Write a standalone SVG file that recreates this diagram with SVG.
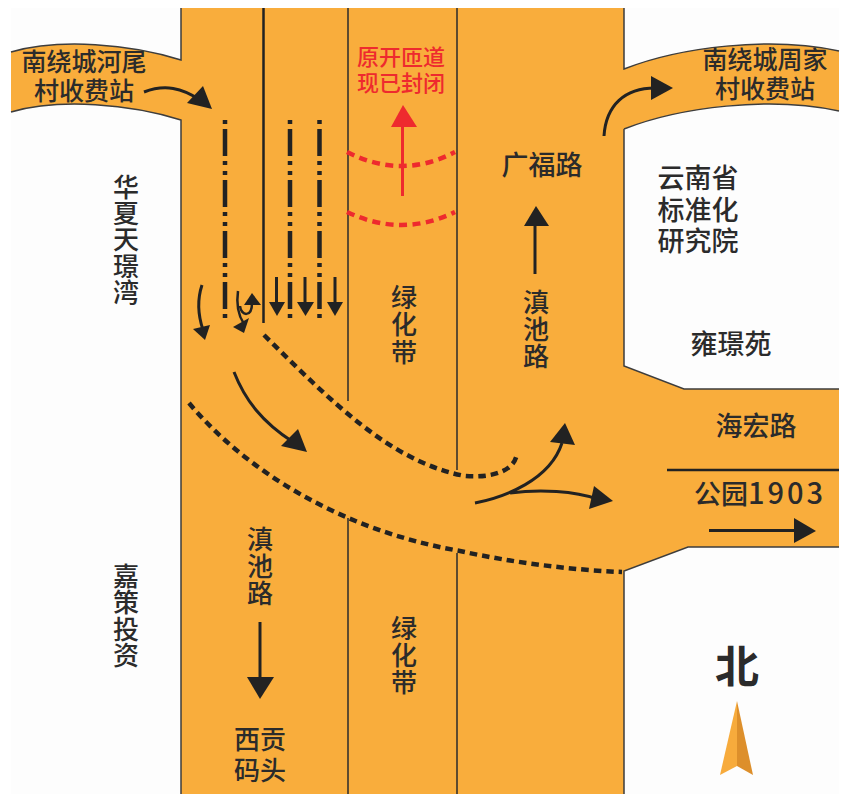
<svg xmlns="http://www.w3.org/2000/svg" width="846" height="794" viewBox="0 0 846 794">
<style>
text{font-family:"Noto Sans CJK SC","Noto Sans",sans-serif;font-size:26px;fill:#2b2b2b;text-anchor:middle;font-weight:500}
text.v{writing-mode:vertical-rl;text-anchor:start}
.ramp{font-size:25px}
.rt{font-size:22px;fill:#ee2a2e}
.edge{fill:none;stroke:#3d3d3d;stroke-width:1.5}
.lane{fill:none;stroke:#2b2b2b;stroke-width:1.5}
.cur{fill:none;stroke:#222;stroke-width:3}
.head{fill:#222}
.dd{fill:none;stroke:#222;stroke-width:4.500;stroke-dasharray:27 5 4 6 4 5;stroke-dashoffset:42}
.dash{fill:none;stroke:#222;stroke-width:4.500;stroke-dasharray:7.500 5}
.rdash{fill:none;stroke:#ee2a2e;stroke-width:4.500;stroke-dasharray:8 5.500}
.red{fill:#ee2a2e}
</style>
<rect width="846" height="794" fill="#fff"/>
<rect x="11" y="8" width="828" height="786" fill="#fdfdfd"/>
<g id="roads">
<path id="road" fill="#f9ad3c" d="M181,8H624V69C680,47 770,36 839,51V111C770,96 680,107 624,129V366L684,389H839V547H688L624,571V794H181V120C130,104 60,98 11,112V52C60,38 130,44 181,60Z"/>
<path class="edge" d="M181,8V60C130,44 60,38 11,52M181,794V120C130,104 60,98 11,112M624,8V69C680,47 770,36 839,51M624,794V571L688,547H839M624,129C680,107 770,96 839,111M624,129V366L684,389H839"/>
</g>
<g id="connectors">
<path class="lane" d="M348,8V401M348,518V794M457,8V470M457,553V794"/>
<path fill="none" stroke="#222" stroke-width="2.500" d="M263.500,8V323M667,470H839"/>
<path class="dd" d="M225,120V320"/>
<path class="dd" d="M290,120V320"/>
<path class="dd" d="M319.500,120V320"/>
<path class="dash" d="M264,335C330,400 390,462 465,476C490,478 515,472 517,453"/>
<path class="dash" d="M189,403C245,470 340,530 460,551C510,562 570,570 622,572"/>
<path class="rdash" d="M347,152Q402,180 455,152"/>
<path class="rdash" d="M347,212Q402,238 455,212"/>
<path fill="none" stroke="#ee2a2e" stroke-width="3" d="M402.500,196V125"/>
<polygon class="red" points="403,105 391,127 417,127"/>
<path class="cur" d="M144,92C165,84 182,88 200,100"/>
<polygon class="head" points="212,109 203,86 187,103"/>
<path class="cur" d="M604,136C606,105 625,88 655,88"/>
<polygon class="head" points="673,88 651,76 651,100"/>
<path class="cur" d="M535,274V224"/>
<polygon class="head" points="536,206 524,226 549,226"/>
<path class="cur" d="M260,622V680"/>
<polygon class="head" points="260,699 247,677 274,677"/>
<path class="cur" d="M709,530.500H796"/>
<polygon class="head" points="816,531 794,518 794,543"/>
<path class="cur" d="M475,503C505,497 550,480 562,443"/>
<polygon class="head" points="565,423 550,442 575,445"/>
<path class="cur" d="M510,493C540,489 575,491 597,499"/>
<polygon class="head" points="613,501 594,486 589,509"/>
<path class="cur" d="M234,372C245,400 262,422 293,442"/>
<polygon class="head" points="307,452 298,429 281,446"/>
<path class="cur" d="M276.500,277V303M305,277V303M335,277V303"/>
<polygon class="head" points="277,316 269,302 285,302"/>
<polygon class="head" points="305.500,316 297,302 314,302"/>
<polygon class="head" points="335,316 327,302 343,302"/>
<path class="cur" d="M202,285C197,300 198,315 203,330"/>
<polygon class="head" points="205,340 193,329 210,325"/>
<path class="cur" style="stroke-width:2.500" d="M238,291C236,305 238,315 244,324"/>
<polygon class="head" points="244,333 233,327 249,318"/>
<path class="cur" style="stroke-width:2.500" d="M240,306C241,316 252,318 252,303"/>
<polygon class="head" points="252,293 244,305 261,305"/>
</g>
<g id="n-nanraoweier"><text class="ramp" y="71"><tspan x="84">南绕城河尾</tspan><tspan x="84" dy="29">村收费站</tspan></text></g>
<g id="n-nanraozhoujia"><text class="ramp" y="69"><tspan x="765">南绕城周家</tspan><tspan x="765" dy="29">村收费站</tspan></text></g>
<g id="n-kaifang"><text class="rt" y="65"><tspan x="401">原开匝道</tspan><tspan x="401" dy="26">现已封闭</tspan></text></g>
<g id="n-guangfu"><text x="542" y="175" style="font-size:27px">广福路</text></g>
<g id="n-yunnan"><text style="font-size:27px" y="188"><tspan x="698">云南省</tspan><tspan x="698" dy="31.500">标准化</tspan><tspan x="698" dy="31.500">研究院</tspan></text></g>
<g id="n-yonghuan"><text x="731" y="354" style="font-size:27px">雍璟苑</text></g>
<g id="n-haihong"><text x="756" y="436" style="font-size:27px">海宏路</text></g>
<g id="n-park"><text x="760" y="504" style="font-size:27px">公园<tspan style="font-size:29px;letter-spacing:3px">1903</tspan></text></g>
<g id="n-huaxia"><text class="v" x="126" y="174" style="letter-spacing:.25px">华夏天璟湾</text></g>
<g id="n-jiace"><text class="v" x="126" y="563" style="letter-spacing:.33px">嘉策投资</text></g>
<g id="n-lvhua1"><text class="v" x="404" y="284" style="letter-spacing:1.500px">绿化带</text></g>
<g id="n-lvhua2"><text class="v" x="404" y="615" style="letter-spacing:1px">绿化带</text></g>
<g id="n-dianchi1"><text class="v" x="536" y="289" style="letter-spacing:1px">滇池路</text></g>
<g id="n-dianchi2"><text class="v" x="260" y="526" style="letter-spacing:1px">滇池路</text></g>
<g id="n-xigong"><text y="749"><tspan x="260">西贡</tspan><tspan x="260" dy="31">码头</tspan></text></g>
<g id="n-north"><text x="737" y="683" style="font-size:44px;font-weight:700">北</text>
<polygon fill="#f7ab3c" points="737,701 720,775 737,766"/><polygon fill="#dd8f2b" points="737,701 753,775 737,766"/></g>
</svg>
